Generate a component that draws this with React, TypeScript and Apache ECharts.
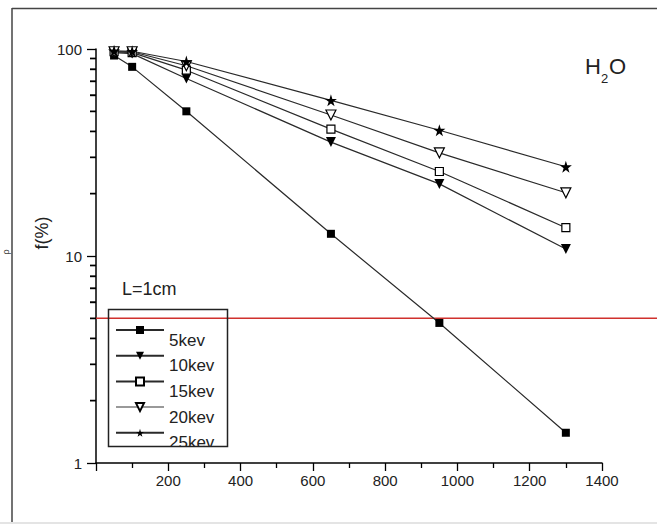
import React, { useEffect, useRef } from "react";
import * as echarts from "echarts";

const xValues = [50, 100, 250, 650, 950, 1300];
const f5kev = [93, 82, 50, 12.8, 4.75, 1.4];
const f10kev = [96, 95, 72, 35.5, 22.3, 10.8];
const f15kev = [97, 96, 79, 41, 25.6, 13.7];
const f20kev = [97, 97, 83, 48, 31.5, 20.2];
const f25kev = [98, 97.5, 87, 56.5, 40.5, 27];
const seriesNames = ["5kev", "10kev", "15kev", "20kev", "25kev"];
const yMinorTicks = [2, 3, 4, 5, 6, 7, 8, 9, 20, 30, 40, 50, 60, 70, 80, 90];
const threshold = 5;
const thresholdX = [0, 1];

const STAR =
  "path://M50,0 L61,35 L98,35 L68,57 L79,91 L50,70 L21,91 L32,57 L2,35 L39,35 Z";
const FONT = "'Liberation Sans', Arial, sans-serif";

export default function App() {
  const ref = useRef<HTMLDivElement>(null);
  useEffect(() => {
    if (!ref.current) return;
    const chart = echarts.init(ref.current, null, { renderer: "svg" });
    const toPairs = (ys: number[]) => xValues.map((x, i) => [x, ys[i]]);
    const lineBase = (name: string, ys: number[]) => ({
      name,
      type: "line",
      xAxisIndex: 0,
      yAxisIndex: 0,
      data: toPairs(ys),
      lineStyle: { color: "#2a2a2a", width: 1.2 },
      z: 3,
    });
    const option: any = {
      animation: false,
      grid: [
        { left: 96, right: 55, top: 49, bottom: 61 },
        { left: 96, right: 0, top: 49, bottom: 61 },
      ],
      xAxis: [
        {
          type: "value",
          gridIndex: 0,
          min: 0,
          max: 1400,
          interval: 200,
          axisLine: { show: true, lineStyle: { color: "#000", width: 1.5 } },
          axisTick: { show: true, length: 8, inside: false, lineStyle: { color: "#000", width: 1.3 } },
          minorTick: { show: true, splitNumber: 2, length: 5, lineStyle: { color: "#000", width: 1.3 } },
          splitLine: { show: false },
          minorSplitLine: { show: false },
          axisLabel: {
            showMinLabel: false,
            margin: 10,
            fontSize: 15,
            fontFamily: FONT,
            color: "#222",
            formatter: (v: number) => String(v),
          },
        },
        { type: "value", gridIndex: 1, min: 0, max: 1, show: false },
      ],
      yAxis: [
        {
          type: "log",
          gridIndex: 0,
          position: "left",
          logBase: 10,
          min: 1,
          max: 100,
          axisLine: { show: true, lineStyle: { color: "#000", width: 1.5 } },
          axisTick: { show: true, length: 9, inside: false, lineStyle: { color: "#000", width: 1.3 } },
          splitLine: { show: false },
          axisLabel: {
            margin: 14,
            fontSize: 15,
            fontFamily: FONT,
            color: "#222",
          },
        },
        { type: "log", gridIndex: 1, logBase: 10, min: 1, max: 100, show: false },
        {
          type: "log",
          gridIndex: 0,
          position: "left",
          offset: 0,
          logBase: 10,
          min: 1,
          max: 100,
          axisLine: { show: false },
          axisLabel: { show: false },
          splitLine: { show: false },
          axisTick: {
            show: true,
            length: 6,
            inside: false,
            customValues: yMinorTicks,
            lineStyle: { color: "#000", width: 1.4 },
          },
        },
      ],
      legend: {
        orient: "vertical",
        left: 115,
        top: 310,
        padding: 0,
        itemWidth: 48,
        itemHeight: 10,
        itemGap: -14.3,
        selectedMode: false,
        data: [
          { name: "5kev" },
          { name: "10kev" },
          { name: "15kev" },
          { name: "20kev", lineStyle: { color: "#999", width: 2 } },
          { name: "25kev" },
        ],
        lineStyle: { width: 2 },
        formatter: (name: string) => "\n" + name,
        textStyle: {
          fontSize: 17,
          fontFamily: FONT,
          color: "#222",
          lineHeight: 20,
        },
      },
      graphic: [
        {
          type: "line",
          shape: { x1: 12, y1: 8.5, x2: 657, y2: 8.5 },
          style: { stroke: "#444", lineWidth: 1.5 },
          z: 100,
        },
        {
          type: "line",
          shape: { x1: 12, y1: 8, x2: 12, y2: 524 },
          style: { stroke: "#444", lineWidth: 1.5 },
          z: 100,
        },
        {
          type: "line",
          shape: { x1: 0, y1: 523, x2: 657, y2: 523 },
          style: { stroke: "#e4e4e4", lineWidth: 2 },
          z: 100,
        },
        {
          type: "rect",
          shape: { x: 107, y: 446.5, width: 122, height: 10 },
          style: { fill: "#fff" },
          z: 100,
        },
        {
          type: "rect",
          shape: { x: 108.5, y: 309.5, width: 119, height: 137 },
          style: { fill: "none", stroke: "#222", lineWidth: 1.5 },
          z: 101,
        },
        {
          type: "text",
          x: 122,
          y: 289,
          style: {
            text: "L=1cm",
            fontSize: 18,
            fontFamily: FONT,
            fill: "#222",
            textVerticalAlign: "middle",
          },
          z: 100,
        },
        {
          type: "text",
          x: 42,
          y: 233,
          rotation: Math.PI / 2,
          style: {
            text: "f(%)",
            fontSize: 18,
            fontFamily: FONT,
            fill: "#222",
            textAlign: "center",
            textVerticalAlign: "middle",
          },
          z: 100,
        },
        {
          type: "text",
          x: 6,
          y: 252,
          rotation: Math.PI / 2,
          style: {
            text: "ρ",
            fontSize: 9,
            fontFamily: FONT,
            fill: "#444",
            textAlign: "center",
            textVerticalAlign: "middle",
          },
          z: 100,
        },
        {
          type: "text",
          x: 585,
          y: 66,
          style: { text: "H", fontSize: 22, fontFamily: FONT, fill: "#222", textVerticalAlign: "middle" },
          z: 100,
        },
        {
          type: "text",
          x: 601,
          y: 78,
          style: { text: "2", fontSize: 13, fontFamily: FONT, fill: "#222", textVerticalAlign: "middle" },
          z: 100,
        },
        {
          type: "text",
          x: 609,
          y: 66,
          style: { text: "O", fontSize: 22, fontFamily: FONT, fill: "#222", textVerticalAlign: "middle" },
          z: 100,
        },
      ],
      series: [
        {
          name: "threshold",
          type: "line",
          xAxisIndex: 1,
          yAxisIndex: 1,
          data: thresholdX.map((x) => [x, threshold]),
          symbol: "none",
          silent: true,
          lineStyle: { color: "#d0312d", width: 1.5 },
          z: 1,
        },
        {
          name: "ticks",
          type: "scatter",
          xAxisIndex: 0,
          yAxisIndex: 0,
          clip: false,
          symbol: "rect",
          symbolSize: [6, 1.5],
          symbolOffset: [-3, 0],
          data: yMinorTicks.map((v) => [0, v]),
          itemStyle: { color: "#000" },
        },
        {
          ...lineBase(seriesNames[0], f5kev),
          symbol: "rect",
          symbolSize: 8,
          itemStyle: { color: "#000" },
        },
        {
          ...lineBase(seriesNames[1], f10kev),
          symbol: "triangle",
          symbolRotate: 180,
          symbolSize: 10,
          itemStyle: { color: "#000" },
        },
        {
          ...lineBase(seriesNames[2], f15kev),
          symbol: "rect",
          symbolSize: 8,
          itemStyle: { color: "#fff", borderColor: "#000", borderWidth: 1.2 },
        },
        {
          ...lineBase(seriesNames[3], f20kev),
          symbol: "triangle",
          symbolRotate: 180,
          symbolSize: 10,
          itemStyle: { color: "#fff", borderColor: "#000", borderWidth: 1.2 },
        },
        {
          ...lineBase(seriesNames[4], f25kev),
          symbol: STAR,
          symbolSize: 12,
          itemStyle: { color: "#000" },
        },
      ],
    };
    chart.setOption(option);
    return () => chart.dispose();
  }, []);
  return (
    <div
      ref={ref}
      style={{ position: "fixed", left: 0, top: 0, width: 657, height: 524, background: "#fff" }}
    />
  );
}
